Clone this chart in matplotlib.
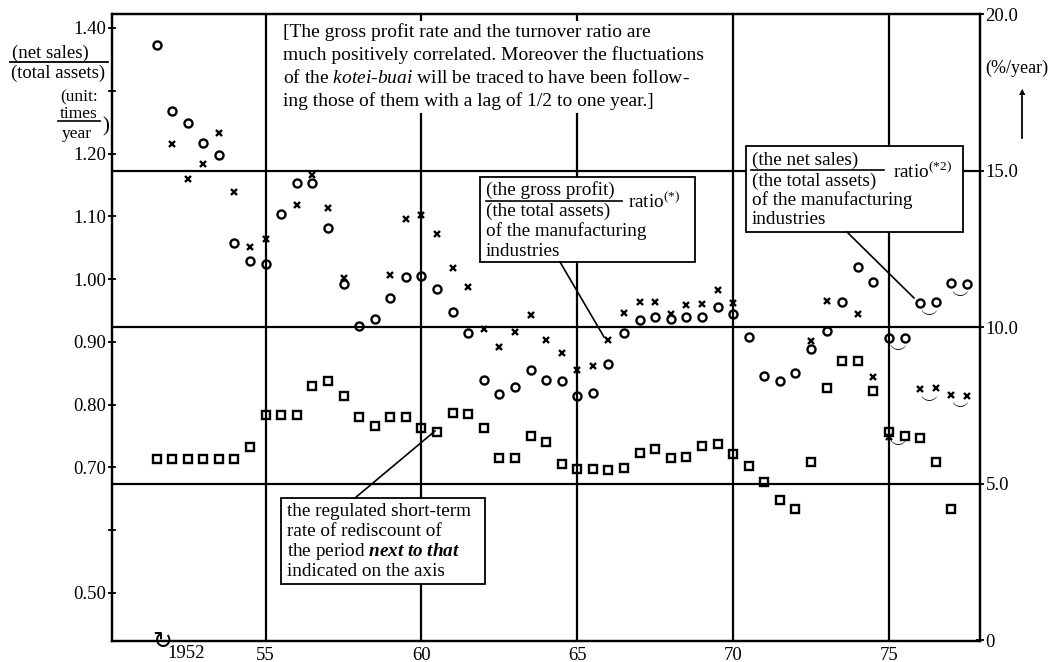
import numpy as np
import matplotlib.pyplot as plt
from matplotlib.patches import Rectangle
from matplotlib.lines import Line2D
from matplotlib.ticker import FixedLocator

plt.rcParams['font.family'] = ['Liberation Serif', 'DejaVu Sans']
plt.rcParams['mathtext.fontset'] = 'custom'
plt.rcParams['mathtext.rm'] = 'Liberation Serif'
plt.rcParams['mathtext.it'] = 'Liberation Serif:italic'
plt.rcParams['mathtext.bf'] = 'Liberation Serif:bold'
plt.rcParams['mathtext.bfit'] = 'Liberation Serif:italic:bold'

# half-year periods (1951 2nd half ... 1977 2nd half)
periods = [51.5, 52.0, 52.5, 53.0, 53.5, 54.0, 54.5, 55.0, 55.5, 56.0,
           56.5, 57.0, 57.5, 58.0, 58.5, 59.0, 59.5, 60.0, 60.5, 61.0,
           61.5, 62.0, 62.5, 63.0, 63.5, 64.0, 64.5, 65.0, 65.5, 66.0,
           66.5, 67.0, 67.5, 68.0, 68.5, 69.0, 69.5, 70.0, 70.5, 71.0,
           71.5, 72.0, 72.5, 73.0, 73.5, 74.0, 74.5, 75.0, 75.5, 76.0,
           76.5, 77.0, 77.5]

# net sales / total assets (times/year), left axis
turnover = [1.373, 1.268, 1.249, 1.217, 1.198, 1.058, 1.029, 1.024, 1.104, 1.153,
            1.153, 1.081, 0.992, 0.925, 0.936, 0.970, 1.004, 1.005, 0.985, 0.948,
            0.914, 0.839, 0.817, 0.828, 0.855, 0.839, 0.838, 0.813, 0.819, 0.865,
            0.914, 0.935, 0.939, 0.936, 0.940, 0.939, 0.956, 0.945, 0.908, 0.845,
            0.838, 0.851, 0.888, 0.918, 0.964, 1.019, 0.996, 0.906, 0.906, 0.962,
            0.964, 0.993, 0.992]

# gross profit / total assets (%/year), right axis
gross_profit = [None, 15.86, 14.72, 15.21, 16.19, 14.31, 12.57, 12.80, None, 13.90,
                14.87, 13.80, 11.57, None, None, 11.66, 13.45, 13.58, 12.96, 11.88,
                11.27, 9.94, 9.35, 9.83, 10.39, 9.57, 9.18, 8.64, 8.76, 9.57,
                10.45, 10.81, 10.81, 10.42, 10.69, 10.72, 11.19, 10.78, None, None,
                None, None, 9.54, 10.83, None, 10.42, 8.40, 6.48, None, 8.01,
                8.04, 7.84, 7.81]

# regulated short-term rediscount rate (%/year), right axis
rediscount = [5.80, 5.80, 5.80, 5.80, 5.80, 5.80, 6.16, 7.20, 7.20, 7.20,
              8.12, 8.29, 7.80, 7.14, 6.84, 7.13, 7.13, 6.78, 6.66, 7.26,
              7.21, 6.77, 5.82, 5.82, 6.51, 6.33, 5.61, 5.45, 5.45, 5.42,
              5.51, 5.97, 6.10, 5.81, 5.86, 6.20, 6.27, 5.93, 5.57, 5.04,
              4.46, 4.20, 5.70, 8.06, 8.93, 8.93, 7.95, 6.64, 6.51, 6.44,
              5.70, 4.20, None]

left_ticks = [1.40, 1.20, 1.10, 1.00, 0.90, 0.80, 0.70, 0.50]
left_minor = [1.30, 0.60]
right_ticks = [0, 5, 10, 15, 20]
right_labels = ['0', '5.0', '10.0', '15.0', '20.0']
year_ticks = [55, 60, 65, 70, 75]

W, H = 1054, 662


def fx(x):
    return x / W


def fy(y):
    return 1 - y / H


def to_float(v):
    return np.array([np.nan if a is None else a for a in v], dtype=float)


fig = plt.figure(figsize=(10.54, 6.62), dpi=100)
ax = fig.add_axes([fx(112), fy(641), fx(980) - fx(112), fy(14) - fy(641)])
ax2 = ax.twinx()

ax.set_xlim(50.07, 77.92)
ax.set_ylim(0.4235, 1.4223)
ax2.set_ylim(-0.03, 19.98)

for a in (ax, ax2):
    for s in a.spines.values():
        s.set_linewidth(1.6)

# grid
for yr in year_ticks:
    ax.axvline(yr, color='black', lw=1.6, zorder=1)
for v in [5, 10, 15]:
    ax2.axhline(v, color='black', lw=1.6, zorder=1)

x = np.array(periods)
ax.plot(x, turnover, 'o', ms=5.8, mfc='none', mec='black', mew=1.7, zorder=3)
ax2.plot(x, to_float(gross_profit), 'x', ms=5, mec='black', mew=1.7, zorder=3)
ax2.plot(x, to_float(rediscount), 's', ms=5.8, mfc='none', mec='black', mew=1.7, zorder=3)

# little ties between paired points
tie = dict(ha='center', va='center', fontsize=12)
for i in [47, 49, 51]:
    ax.annotate('$\\smile$', ((x[i] + x[i + 1]) / 2, (turnover[i] + turnover[i + 1]) / 2),
                xytext=(0, -6), textcoords='offset points', **tie)
for i in [49, 51]:
    ax2.annotate('$\\smile$', ((x[i] + x[i + 1]) / 2, (gross_profit[i] + gross_profit[i + 1]) / 2),
                 xytext=(0, -6), textcoords='offset points', **tie)
ax2.annotate('$\\smile$', ((x[47] + x[48]) / 2, (rediscount[47] + rediscount[48]) / 2),
             xytext=(0, -5), textcoords='offset points', **tie)

# ticks
ax.yaxis.set_major_locator(FixedLocator(left_ticks))
ax.yaxis.set_minor_locator(FixedLocator(left_minor))
ax.set_yticklabels(['%.2f' % t for t in left_ticks])
ax.tick_params(axis='y', which='both', direction='inout', length=6, width=1.3,
               labelsize=13.5, pad=1)
ax.set_xticks(year_ticks)
ax.set_xticklabels([str(t) for t in year_ticks])
ax.tick_params(axis='x', length=0, labelsize=13.5, pad=4)
ax2.set_yticks(right_ticks)
ax2.set_yticklabels(right_labels)
ax2.tick_params(axis='y', direction='inout', length=6, width=1.3, labelsize=13.5, pad=1)

fig.text(fx(186), fy(653), '1952', ha='center', va='center', fontsize=13.5)
fig.text(fx(162), fy(641), '\u21bb', ha='center', va='center', fontsize=17,
         family=['DejaVu Sans'])


def box(x0, y0, x1, y1, edge='black'):
    fig.add_artist(Rectangle((fx(x0), fy(y1)), fx(x1) - fx(x0), fy(y0) - fy(y1),
                             transform=fig.transFigure, facecolor='white',
                             edgecolor=edge, lw=1.3, zorder=5))


def line(x0, y0, x1, y1, lw=1.2):
    fig.add_artist(Line2D([fx(x0), fx(x1)], [fy(y0), fy(y1)], transform=fig.transFigure,
                          color='black', lw=lw, zorder=6))


def txt(x, y, s, size=12, **kw):
    fig.text(fx(x), fy(y), s, va='center', fontsize=size, zorder=7, **kw)


# left axis title
txt(50, 53, '(net sales)', 13.5, ha='center')
line(10, 62, 108, 62, 1.3)
txt(58, 73, '(total assets)', 13.5, ha='center')
txt(79, 97, '(unit:', 12.5, ha='center')
txt(79, 114, 'times', 12.5, ha='center')
line(58, 121, 100, 121, 1.2)
txt(77, 134, 'year', 12.5, ha='center')
txt(106, 127, ')', 15, ha='center')

# right axis unit
txt(1017, 68, '(%/year)', 13, ha='center')
fig.add_artist(Line2D([fx(1022), fx(1022)], [fy(138), fy(96)], transform=fig.transFigure,
                      color='black', lw=1.3, zorder=6))
fig.text(fx(1022), fy(92), '\u25b2', ha='center', va='center', fontsize=6,
         family=['DejaVu Sans'])

# top note (white patch hides grid lines 60, 65)
box(270, 21, 730, 113, edge='none')
note = ['[The gross profit rate and the turnover ratio are',
        'much positively correlated. Moreover the fluctuations',
        'of the $\\mathit{kotei}$-$\\mathit{buai}$ will be traced to have been follow-',
        'ing those of them with a lag of 1/2 to one year.]']
for k, s in enumerate(note):
    txt(283, 32 + 23 * k, s, 14, ha='left')

# gross profit box
box(480, 177, 695, 262)
txt(486, 190, '(the gross profit)', 13.8, ha='left')
line(486, 201, 622, 201, 1.2)
txt(486, 211, '(the total assets)', 13.8, ha='left')
txt(628, 202, 'ratio$^{(*)}$', 13.8, ha='left')
txt(486, 231, 'of the manufacturing', 13.8, ha='left')
txt(486, 251, 'industries', 13.8, ha='left')
line(560, 262, 604, 337)

# net sales box
box(746, 146, 963, 232)
txt(752, 160, '(the net sales)', 13.8, ha='left')
line(751, 170, 884, 170, 1.2)
txt(752, 181, '(the total assets)', 13.8, ha='left')
txt(893, 172, 'ratio$^{(*2)}$', 13.8, ha='left')
txt(752, 200, 'of the manufacturing', 13.8, ha='left')
txt(752, 220, 'industries', 13.8, ha='left')
line(847, 232, 914, 298)

# rediscount box
box(281, 498, 485, 584)
txt(287, 512, 'the regulated short-term', 13.8, ha='left')
txt(287, 532, 'rate of rediscount of', 13.8, ha='left')
txt(287, 552, 'the period $\\mathbfit{next\\ to\\ that}$', 13.8, ha='left')
txt(287, 572, 'indicated on the axis', 13.8, ha='left')
line(355, 498, 435, 431)

fig.savefig('out.png', dpi=100)
